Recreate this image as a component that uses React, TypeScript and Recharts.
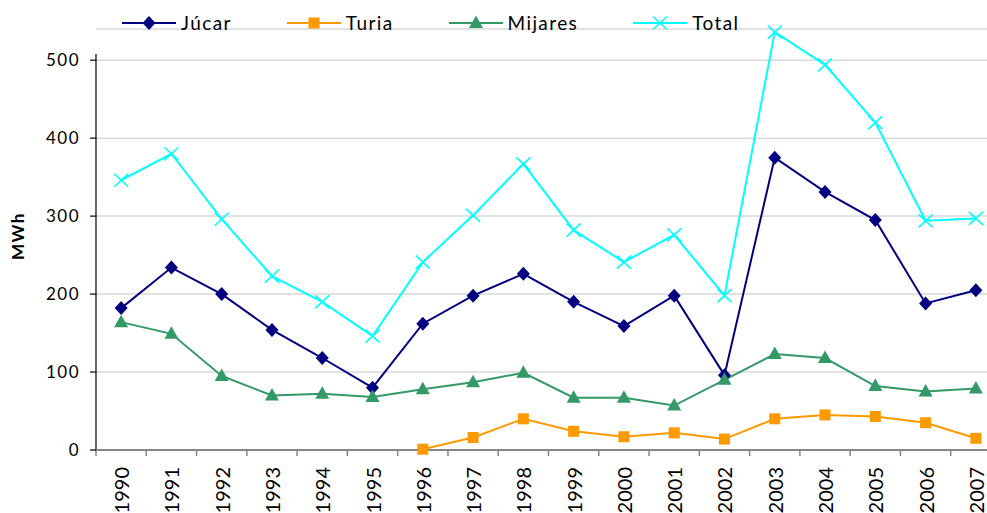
import React from 'react';
import { LineChart, Line, XAxis, YAxis, CartesianGrid, ReferenceLine } from 'recharts';

const YEARS = [1990, 1991, 1992, 1993, 1994, 1995, 1996, 1997, 1998, 1999, 2000, 2001, 2002, 2003, 2004, 2005, 2006, 2007];
const JUCAR = [182, 234, 200, 154, 118, 80, 162, 198, 226, 190, 159, 198, 96, 375, 331, 295, 188, 205];
const TURIA = [null, null, null, null, null, null, 1, 16, 40, 24, 17, 22, 14, 40, 45, 43, 35, 15];
const MIJARES = [164, 149, 95, 70, 72, 68, 78, 87, 99, 67, 67, 57, 90, 123, 118, 82, 75, 79];
const TOTAL = [346, 380, 296, 223, 190, 146, 241, 301, 367, 282, 241, 276, 198, 536, 494, 420, 294, 297];
const Y_TICKS = [0, 100, 200, 300, 400, 500];

const data = YEARS.map((year, i) => ({
  year,
  jucar: JUCAR[i],
  turia: TURIA[i],
  mijares: MIJARES[i],
  total: TOTAL[i],
}));

// category boundaries, so tick marks sit between years like the original
const BOUNDS = [...YEARS.map((y) => y - 0.5), YEARS[YEARS.length - 1] + 0.5];

const CHART_W = 1001;
const CHART_H = 513;
const AXIS_W = 96;
const HALF_BAND = (CHART_W - AXIS_W) / YEARS.length / 2;
const FONT = 'Lato, "Open Sans", sans-serif';

type Shape = 'diamond' | 'square' | 'triangle' | 'cross';

const SERIES: { key: string; name: string; color: string; shape: Shape }[] = [
  { key: 'jucar', name: 'Júcar', color: '#000080', shape: 'diamond' },
  { key: 'turia', name: 'Turia', color: '#FF9900', shape: 'square' },
  { key: 'mijares', name: 'Mijares', color: '#339966', shape: 'triangle' },
  { key: 'total', name: 'Total', color: '#00FFFF', shape: 'cross' },
];

const Marker = ({ cx, cy, shape, color }: { cx: number; cy: number; shape: Shape; color: string }) => {
  if (shape === 'diamond') {
    return <polygon points={`${cx},${cy - 7} ${cx + 6.5},${cy} ${cx},${cy + 7} ${cx - 6.5},${cy}`} fill={color} />;
  }
  if (shape === 'square') {
    return <rect x={cx - 5.5} y={cy - 5.5} width={11} height={11} fill={color} />;
  }
  if (shape === 'triangle') {
    return <polygon points={`${cx},${cy - 7.5} ${cx + 7},${cy + 5} ${cx - 7},${cy + 5}`} fill={color} />;
  }
  return (
    <g stroke={color} strokeWidth={1.6}>
      <line x1={cx - 7} y1={cy - 6.5} x2={cx + 7} y2={cy + 6.5} />
      <line x1={cx - 7} y1={cy + 6.5} x2={cx + 7} y2={cy - 6.5} />
    </g>
  );
};

const makeDot = (shape: Shape, color: string) => (props: any) => {
  const { cx, cy, index } = props;
  if (cx == null || cy == null || props.value == null) return <g key={`d-${index}`} />;
  return <Marker key={`d-${index}`} cx={cx} cy={cy} shape={shape} color={color} />;
};

const YearTick = (props: any) => {
  const { x, y, payload } = props;
  const year = payload.value + 0.5;
  if (year > YEARS[YEARS.length - 1]) return null;
  return (
    <text
      transform={`translate(${x + HALF_BAND},${y + 9}) rotate(-90)`}
      textAnchor="end"
      dominantBaseline="central"
      fontFamily={FONT}
      fontSize={20}
      fill="#000"
    >
      {year}
    </text>
  );
};

const LegendBar = () => (
  <div style={{ position: 'absolute', left: 122, top: 11, display: 'flex', gap: 55, alignItems: 'center' }}>
    {SERIES.map((s) => (
      <div key={s.key} style={{ display: 'flex', alignItems: 'center' }}>
        <svg width={54} height={22}>
          <line x1={0} y1={11} x2={54} y2={11} stroke={s.color} strokeWidth={2} />
          <Marker cx={27} cy={11} shape={s.shape} color={s.color} />
        </svg>
        <span style={{ marginLeft: 5, fontFamily: FONT, fontSize: 19, letterSpacing: 1.4, color: '#000' }}>{s.name}</span>
      </div>
    ))}
  </div>
);

export default function App() {
  return (
    <div style={{ position: 'relative', width: 987, height: 513, overflow: 'hidden', background: '#fff' }}>
      <style>{'body{margin:0}'}</style>
      <LineChart width={CHART_W} height={CHART_H} data={data} margin={{ top: 29, right: 0, bottom: 0, left: 0 }}>
        <CartesianGrid horizontal vertical={false} stroke="#d9d9d9" strokeWidth={1.5} />
        <XAxis
          dataKey="year"
          type="number"
          domain={[BOUNDS[0], BOUNDS[BOUNDS.length - 1]]}
          ticks={BOUNDS}
          interval={0}
          height={63}
          tick={<YearTick />}
          tickSize={6}
          tickMargin={2}
          axisLine={{ stroke: '#868686', strokeWidth: 2 }}
          tickLine={{ stroke: '#868686', strokeWidth: 1.5 }}
        />
        <YAxis
          type="number"
          domain={[0, 540]}
          ticks={Y_TICKS}
          width={AXIS_W}
          axisLine={false}
          tickSize={6}
          tickMargin={10}
          tickLine={{ stroke: '#000', strokeWidth: 1.2 }}
          tick={{ fontFamily: FONT, fontSize: 17, fill: '#000', letterSpacing: 1.5 }}
        />
        <ReferenceLine
          segment={[{ x: BOUNDS[0], y: 0 }, { x: BOUNDS[0], y: 508 }]}
          stroke="#000"
          strokeWidth={1.2}
          ifOverflow="visible"
        />
        {SERIES.map((s) => (
          <Line
            key={s.key}
            dataKey={s.key}
            name={s.name}
            stroke={s.color}
            strokeWidth={2}
            dot={makeDot(s.shape, s.color)}
            activeDot={false}
            isAnimationActive={false}
          />
        ))}
      </LineChart>
      <div
        style={{
          position: 'absolute',
          left: 17,
          top: 236,
          transform: 'translate(-50%,-50%) rotate(-90deg)',
          fontFamily: FONT,
          fontWeight: 700,
          fontSize: 17,
          letterSpacing: 1.5,
          whiteSpace: 'nowrap',
        }}
      >
        MWh
      </div>
      <LegendBar />
    </div>
  );
}
